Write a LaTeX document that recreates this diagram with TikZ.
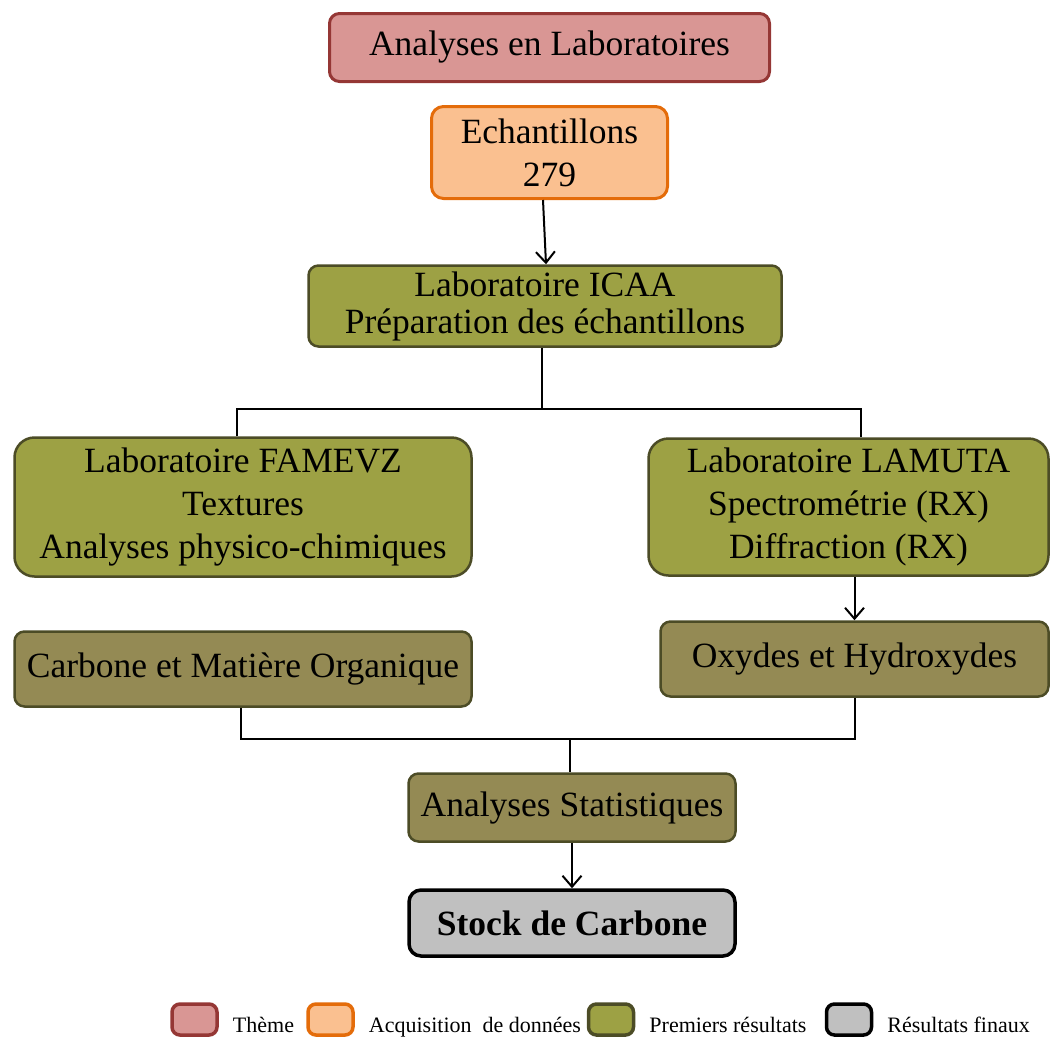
\documentclass[tikz,border=0pt]{standalone}
\usepackage{fontspec}
\setmainfont{Liberation Serif}
\usetikzlibrary{positioning}
\usetikzlibrary{arrows.meta}
\definecolor{themeFill}{RGB}{217,150,148}
\definecolor{themeDraw}{RGB}{149,55,53}
\definecolor{dataFill}{RGB}{250,192,144}
\definecolor{dataDraw}{RGB}{228,108,10}
\definecolor{firstFill}{RGB}{157,161,68}
\definecolor{firstDraw}{RGB}{76,76,38}
\definecolor{derivedFill}{RGB}{148,138,84}
\definecolor{finalFill}{RGB}{192,192,192}
\tikzstyle{pixels} = [x = 1pt, y = -1pt]
\tikzstyle{boxStyle} = [rounded corners = 10pt, line width = 2.5pt, align = center, inner sep = 0pt, font = \fontsize{35.5pt}{43pt}\selectfont]
\tikzstyle{themeBox} = [boxStyle, draw = themeDraw, fill = themeFill, line width = 3pt]
\tikzstyle{dataBox} = [boxStyle, draw = dataDraw, fill = dataFill, line width = 3pt, rounded corners = 12pt]
\tikzstyle{firstBox} = [boxStyle, draw = firstDraw, fill = firstFill]
\tikzstyle{derivedBox} = [boxStyle, draw = firstDraw, fill = derivedFill]
\tikzstyle{finalBox} = [boxStyle, draw = black, fill = finalFill, line width = 3.5pt, rounded corners = 12pt]
\tikzstyle{connector} = [line width = 2pt, black]
\tikzstyle{arrowHead} = [-{Straight Barb[length = 11pt, width = 19pt]}]
\tikzstyle{legendSwatch} = [minimum width = 45pt, minimum height = 31pt, rounded corners = 8pt, line width = 3.5pt]
\tikzstyle{legendText} = [inner sep = 0pt, text height = 15pt, text depth = 4pt, yshift = -7pt, font = \fontsize{22pt}{26pt}\selectfont]
\newcommand{\labBox}[7]{\node [#2, minimum width = #5pt, minimum height = #6pt] (#1) at (#3, #4) {#7};}
\newcommand{\legendItem}[4]{
  \node [#2, legendSwatch] (#1) at (#3, 1019.5) {};
  \node [legendText, right = 14pt of #1] (#1Text) {#4};
}
\begin{document}
\begin{tikzpicture}[pixels]
  \useasboundingbox (0, 0) rectangle (1051, 1039);
  % boxes
  \labBox{theme}{themeBox}{549.5}{47.5}{440}{68}{Analyses en Laboratoires}
  \labBox{samples}{dataBox}{549.5}{152.5}{236}{92}{Echantillons\\279}
  \labBox{icaa}{firstBox, font = \fontsize{35.5pt}{37pt}\selectfont}{545}{306}{473}{81}{Laboratoire ICAA\\Préparation des échantillons}
  \labBox{famevz}{firstBox, rounded corners = 20pt}{243}{507}{457}{139}{Laboratoire FAMEVZ\\Textures\\Analyses physico-chimiques}
  \labBox{lamuta}{firstBox, rounded corners = 20pt}{848.5}{507}{400}{137}{Laboratoire LAMUTA\\Spectrométrie (RX)\\Diffraction (RX)}
  \labBox{carbon}{derivedBox}{243}{669}{457}{75}{Carbone et Matière Organique}
  \labBox{oxides}{derivedBox}{854.5}{659}{388}{75}{Oxydes et Hydroxydes}
  \labBox{statistics}{derivedBox}{572}{807.5}{327}{68}{Analyses Statistiques}
  \labBox{stock}{finalBox}{572}{923}{326}{66}{\textbf{Stock de Carbone}}
  % connectors
  \coordinate (splitTop) at (542, 409);
  \coordinate (splitBottom) at (570, 739);
  \draw [connector, arrowHead] ([xshift = -6.5pt]samples.south) -- ([xshift = 1pt]icaa.north);
  \draw [connector] (splitTop |- icaa.south) -- (splitTop);
  \draw [connector] ([xshift = -6pt]famevz.north) |- (splitTop) -| ([xshift = 12.5pt]lamuta.north);
  \draw [connector, arrowHead] (lamuta.south -| oxides.north) -- (oxides.north);
  \draw [connector] ([xshift = -2pt]carbon.south) |- (splitBottom) -| (oxides.south);
  \draw [connector] (splitBottom) -- (splitBottom |- statistics.north);
  \draw [connector, arrowHead] (statistics.south) -- (stock.north);
  % legend
  \legendItem{themeKey}{themeBox}{194.5}{Thème}
  \legendItem{dataKey}{dataBox}{330.5}{Acquisition\ \ de données}
  \legendItem{firstKey}{firstBox}{611}{Premiers résultats}
  \legendItem{finalKey}{finalBox}{849}{Résultats finaux}
\end{tikzpicture}
\end{document}
